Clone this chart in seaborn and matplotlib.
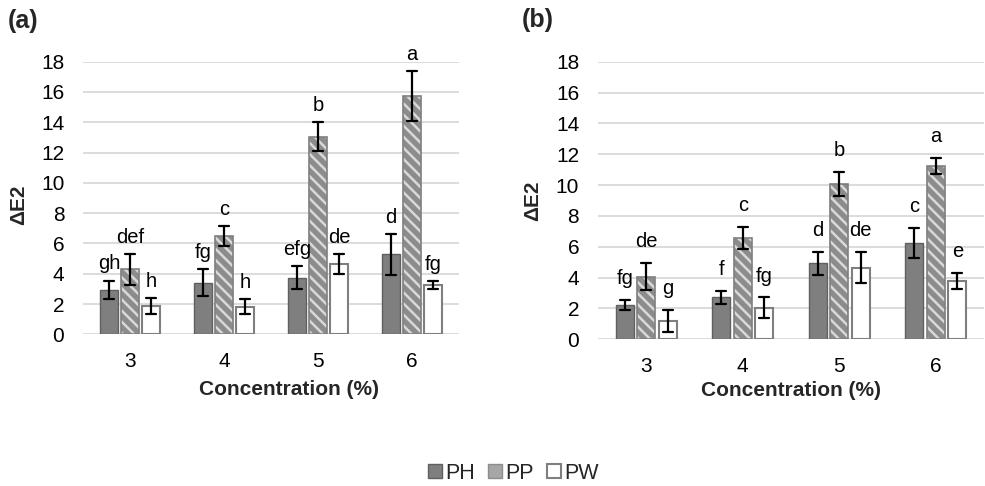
import numpy as np
import pandas as pd
import matplotlib
matplotlib.use("Agg")
import matplotlib.pyplot as plt
import matplotlib.patches as mpatches
import seaborn as sns

# Values
concentrations = ["3", "4", "5", "6"]
groups = ["PH", "PP", "PW"]

# panel (a)
a_PH = [2.93, 3.41, 3.74, 5.28]
a_PP = [4.29, 6.49, 13.05, 15.73]
a_PW = [1.87, 1.83, 4.64, 3.26]
a_PH_err = [0.62, 0.91, 0.77, 1.34]
a_PP_err = [1.02, 0.63, 0.98, 1.63]
a_PW_err = [0.50, 0.49, 0.63, 0.27]
a_PH_letters = ["gh", "fg", "efg", "d"]
a_PP_letters = ["def", "c", "b", "a"]
a_PW_letters = ["h", "h", "de", "fg"]

# panel (b)
b_PH = [2.23, 2.72, 4.93, 6.24]
b_PP = [4.06, 6.55, 10.07, 11.24]
b_PW = [1.21, 2.05, 4.65, 3.78]
b_PH_err = [0.33, 0.44, 0.73, 0.95]
b_PP_err = [0.88, 0.70, 0.78, 0.53]
b_PW_err = [0.72, 0.66, 1.03, 0.53]
b_PH_letters = ["fg", "f", "d", "c"]
b_PP_letters = ["de", "c", "b", "a"]
b_PW_letters = ["g", "fg", "de", "e"]

sns.set_theme(style="white")
plt.rcParams['font.family'] = ['Liberation Sans', 'DejaVu Sans']

PH_COLOR = "#7f7f7f"
PP_COLOR = "#8c8c8c"
PP_STRIPE = "#d9d9d9"
EDGE = "#7f7f7f"
GRID = "#d9d9d9"
plt.rcParams['hatch.linewidth'] = 1.8


def make_frame(means, errs):
    # two rows per bar (mean - err, mean + err) -> seaborn mean + min/max interval
    rows = []
    for g, m_list, e_list in zip(groups, means, errs):
        for c, m, e in zip(concentrations, m_list, e_list):
            rows.append({"conc": c, "group": g, "val": m - e})
            rows.append({"conc": c, "group": g, "val": m + e})
    return pd.DataFrame(rows)


def draw_panel(ax, means, errs, letters, text_offset):
    df = make_frame(means, errs)
    sns.barplot(data=df, x="conc", y="val", hue="group", order=concentrations,
                hue_order=groups, estimator="mean",
                errorbar=lambda v: (v.min(), v.max()),
                capsize=0.3, err_kws={"color": "black", "linewidth": 1.6},
                width=0.67, gap=0.17, legend=False, ax=ax)

    for k, container in enumerate(ax.containers):
        for j, bar in enumerate(container):
            if groups[k] == "PH":
                bar.set_facecolor(PH_COLOR)
                bar.set_edgecolor("#606060")
                bar.set_linewidth(1.0)
            elif groups[k] == "PP":
                bar.set_facecolor(PP_COLOR)
                bar.set_edgecolor(PP_STRIPE)
                bar.set_hatch("\\\\\\")
                bar.set_linewidth(0)
                outline = mpatches.Rectangle(bar.get_xy(), bar.get_width(), bar.get_height(),
                                             fill=False, edgecolor=EDGE, linewidth=1.2,
                                             zorder=bar.get_zorder() + 0.1)
                ax.add_patch(outline)
            else:
                bar.set_facecolor("white")
                bar.set_edgecolor(EDGE)
                bar.set_linewidth(1.5)
            cx = bar.get_x() + bar.get_width() / 2
            top = means[k][j] + errs[k][j]
            ax.annotate(letters[k][j], (cx, top), xytext=(0, text_offset),
                        textcoords="offset points", ha="center", va="baseline",
                        fontsize=14.5, color="black", annotation_clip=False)

    ax.set_ylim(0, 18)
    ax.set_yticks(range(0, 19, 2))
    ax.yaxis.grid(True, color=GRID, linewidth=1.3)
    ax.set_axisbelow(True)
    for s in ax.spines.values():
        s.set_visible(False)
    ax.tick_params(axis="both", length=0, labelsize=15, colors="black")
    ax.tick_params(axis="y", pad=13.5)
    ax.tick_params(axis="x", pad=12.5)
    ax.set_xlabel("Concentration (%)", fontsize=15, fontweight="bold")
    ax.set_ylabel("ΔE2", fontsize=15, fontweight="bold")


fig = plt.figure(figsize=(9.85, 4.86), dpi=100)
ax_a = fig.add_axes([0.0843, 0.3121, 0.3817, 0.561])
ax_b = fig.add_axes([0.6071, 0.3019, 0.3919, 0.5712])

draw_panel(ax_a, [a_PH, a_PP, a_PW], [a_PH_err, a_PP_err, a_PW_err],
           [a_PH_letters, a_PP_letters, a_PW_letters], 8)
draw_panel(ax_b, [b_PH, b_PP, b_PW], [b_PH_err, b_PP_err, b_PW_err],
           [b_PH_letters, b_PP_letters, b_PW_letters], 11.5)

ax_a.xaxis.set_label_coords(0.549, -0.166)
ax_a.yaxis.set_label_coords(-0.146, 0.474)
ax_b.xaxis.set_label_coords(0.5, -0.152)
ax_b.yaxis.set_label_coords(-0.146, 0.498)

fig.text(0.0239, 0.957, "(a)", fontsize=18, fontweight="bold", ha="center", va="center")
fig.text(0.5457, 0.958, "(b)", fontsize=18, fontweight="bold", ha="center", va="center")

handles = [
    mpatches.Patch(facecolor=PH_COLOR, edgecolor="#606060", linewidth=1.0, label="PH"),
    mpatches.Patch(facecolor="#a6a6a6", edgecolor="#8c8c8c", linewidth=1.0, label="PP"),
    mpatches.Patch(facecolor="white", edgecolor=EDGE, linewidth=1.5, label="PW"),
]
fig.legend(handles=handles, loc="center", bbox_to_anchor=(0.521, 0.026), ncol=3,
           frameon=False, fontsize=15.5, handlelength=0.65, handleheight=0.65,
           handletextpad=0.15, columnspacing=0.6, borderpad=0)

fig.savefig("out.png", dpi=100)
